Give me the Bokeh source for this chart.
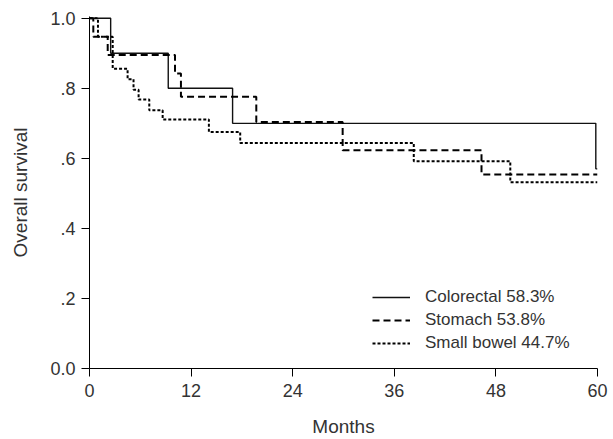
from bokeh.plotting import figure
from bokeh.models import Range1d, FixedTicker, Legend, LegendItem
from bokeh.embed import file_html
from bokeh.resources import INLINE

# Kaplan-Meier step data (months, survival)
colorectal_t = [0, 2.5, 9.3, 16.9, 59.8, 60]
colorectal_s = [1.0, 0.9, 0.8, 0.7, 0.57, 0.57]

stomach_t = [0, 0.45, 2.15, 10.1, 10.8, 19.7, 29.9, 46.3, 60]
stomach_s = [1.0, 0.947, 0.895, 0.842, 0.776, 0.704, 0.623, 0.554, 0.554]

smallbowel_t = [0, 1.0, 2.74, 4.5, 5.2, 5.8, 7.06, 8.64, 14.1, 17.8, 38.3, 49.7, 60]
smallbowel_s = [1.0, 0.947, 0.856, 0.826, 0.796, 0.768, 0.737, 0.711, 0.675, 0.644, 0.592, 0.532, 0.532]

labels = ["Colorectal 58.3%", "Stomach 53.8%", "Small bowel 44.7%"]
x_ticks = [0, 12, 24, 36, 48, 60]
y_ticks = [0.0, 0.2, 0.4, 0.6, 0.8, 1.0]
y_tick_labels = ["0.0", ".2", ".4", ".6", ".8", "1.0"]

FONT = "Liberation Sans"
TXT = "#333333"

p = figure(width=613, height=439, output_backend="svg", toolbar_location=None,
           x_range=Range1d(0, 60), y_range=Range1d(0, 1.005),
           min_border_left=89, min_border_right=16, min_border_top=16, min_border_bottom=71)
p.outline_line_color = None
p.grid.visible = False

r1 = p.step(colorectal_t, colorectal_s, mode="after", line_color="#111111", line_width=1.4)
r2 = p.step(stomach_t, stomach_s, mode="after", line_color="#000000", line_width=2,
            line_dash="7 4")
r3 = p.step(smallbowel_t, smallbowel_s, mode="after", line_color="#000000", line_width=2,
            line_dash="3 2")

for ax in (p.xaxis[0], p.yaxis[0]):
    ax.axis_line_color = "#000000"
    ax.axis_line_width = 1
    ax.major_tick_line_color = "#000000"
    ax.major_tick_out = 8
    ax.major_tick_in = 0
    ax.minor_tick_line_color = None
    ax.major_label_text_font = FONT
    ax.major_label_text_font_size = "18px"
    ax.major_label_text_color = TXT
    ax.axis_label_text_font = FONT
    ax.axis_label_text_font_size = "19px"
    ax.axis_label_text_font_style = "normal"
    ax.axis_label_text_color = TXT

p.xaxis.ticker = FixedTicker(ticks=x_ticks)
p.xaxis.axis_label = "Months"
p.xaxis.major_label_standoff = 7
p.xaxis.axis_label_standoff = 16

p.yaxis.ticker = FixedTicker(ticks=y_ticks)
p.yaxis.major_label_overrides = {t: l for t, l in zip(y_ticks, y_tick_labels)}
p.yaxis.axis_label = "Overall survival"
p.yaxis.major_label_standoff = 6
p.yaxis.axis_label_standoff = 16

legend = Legend(items=[LegendItem(label=labels[0], renderers=[r1]),
                       LegendItem(label=labels[1], renderers=[r2]),
                       LegendItem(label=labels[2], renderers=[r3])],
                location=(283, 15), orientation="vertical",
                glyph_width=38, glyph_height=20, label_standoff=15, spacing=3,
                padding=0, margin=0, border_line_color=None, background_fill_alpha=0,
                label_text_font=FONT, label_text_font_size="17px", label_text_color=TXT,
                label_height=20)
p.add_layout(legend, "center")

open("out.html", "w").write(file_html(p, INLINE))
